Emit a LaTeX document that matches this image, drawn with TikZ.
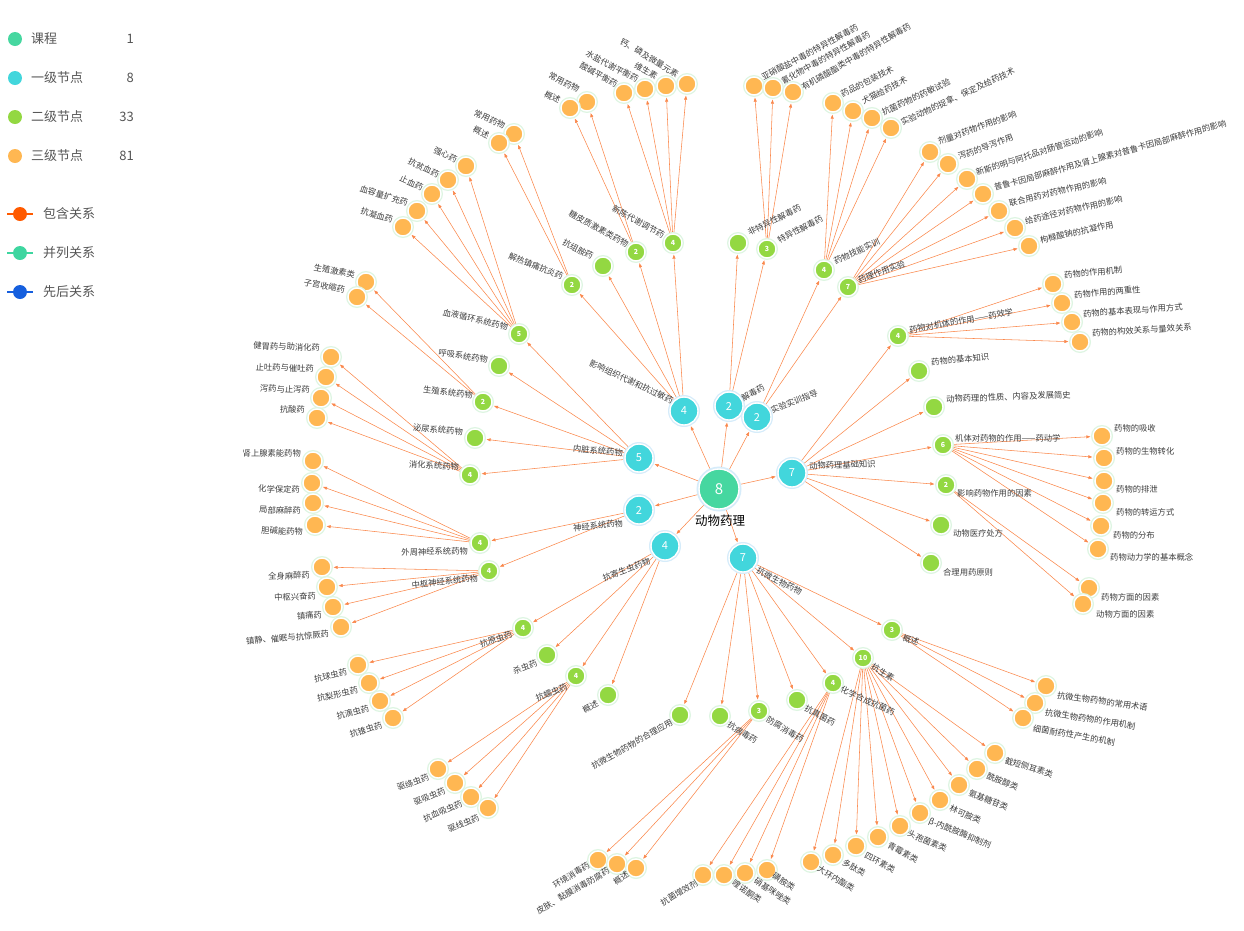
\documentclass[tikz,border=0pt]{standalone}
\usepackage{fontspec}
\setmainfont{Noto Sans CJK SC}
\usetikzlibrary{arrows.meta,backgrounds}
\definecolor{c0}{RGB}{70,215,160}
\definecolor{c1}{RGB}{66,214,220}
\definecolor{c2}{RGB}{147,216,66}
\definecolor{c3}{RGB}{255,183,82}
\definecolor{haloG}{RGB}{222,245,226}
\definecolor{haloB}{RGB}{214,236,250}
\definecolor{edgec}{RGB}{250,135,75}
\definecolor{labc}{RGB}{60,60,60}
\definecolor{legc}{RGB}{85,85,85}
\definecolor{relA}{RGB}{255,90,0}
\definecolor{relB}{RGB}{62,214,160}
\definecolor{relC}{RGB}{22,95,222}
\newcommand\fsz[1]{\fontsize{#1}{#1}\selectfont}
\tikzset{
 base/.style={circle,draw=white,line width=1.4pt,inner sep=0pt,text=white},
 n0/.style={base,fill=c0,minimum size=40pt,preaction={draw=haloB,line width=5pt},font=\fsz{15}},
 n1/.style={base,fill=c1,minimum size=28pt,preaction={draw=haloB,line width=4pt},font=\fsz{11}},
 n2/.style={base,fill=c2,minimum size=18pt,preaction={draw=haloG,line width=4pt},font=\bfseries\fsz{7}},
 n3/.style={base,fill=c3,minimum size=18pt,preaction={draw=haloG,line width=4pt}},
 lab/.style={text=labc,font=\fsz{8.3},inner sep=0pt},
 le/.style={lab,anchor=east},
 lw/.style={lab,anchor=west},
 edge/.style={draw=edgec,line width=0.55pt,-{Triangle[length=4pt,width=3pt]},shorten >=2pt},
 legdot/.style={circle,inner sep=0pt,minimum size=14pt},
 legtxt/.style={text=legc,font=\fsz{13},inner sep=0pt},
}
\begin{document}
\begin{tikzpicture}[x=1pt,y=-1pt]
\useasboundingbox (0,0) rectangle (1244,930);
% legend
\node[legdot,fill=c0] (g0) at (15,39) {};
\node[legdot,fill=c1] (g1) at (15,78) {};
\node[legdot,fill=c2] (g2) at (15,117) {};
\node[legdot,fill=c3] (g3) at (15,156) {};
\node[legtxt,anchor=west] (gt0) at (31,39) {课程};
\node[legtxt,anchor=west] (gt1) at (31,78) {一级节点};
\node[legtxt,anchor=west] (gt2) at (31,117) {二级节点};
\node[legtxt,anchor=west] (gt3) at (31,156) {三级节点};
\node[legtxt,anchor=east] (gn0) at (134,39) {1};
\node[legtxt,anchor=east] (gn1) at (134,78) {8};
\node[legtxt,anchor=east] (gn2) at (134,117) {33};
\node[legtxt,anchor=east] (gn3) at (134,156) {81};
\coordinate (la1) at (7,214); \coordinate (la2) at (33,214);
\coordinate (lb1) at (7,253); \coordinate (lb2) at (33,253);
\coordinate (lc1) at (7,292); \coordinate (lc2) at (33,292);
\draw[relA,line width=2pt] (la1) -- (la2);
\draw[relB,line width=2pt] (lb1) -- (lb2);
\draw[relC,line width=2pt] (lc1) -- (lc2);
\node[legdot,fill=relA] (r1) at (20,214) {};
\node[legdot,fill=relB] (r2) at (20,253) {};
\node[legdot,fill=relC] (r3) at (20,292) {};
\node[legtxt,anchor=west] (rt1) at (43,214) {包含关系};
\node[legtxt,anchor=west] (rt2) at (43,253) {并列关系};
\node[legtxt,anchor=west] (rt3) at (43,292) {先后关系};
% center
\node[n0] (C) at (719,489) {8};
\node[text=black,font=\fsz{12.5},inner sep=0pt] (tC) at (720,521) {动物药理};
% level 1
\node[n1] (A1) at (684,411) {4};
\node[n1] (A2) at (729,406) {2};
\node[n1] (A3) at (757,417) {2};
\node[n1] (A4) at (639,458) {5};
\node[n1] (A5) at (639,510) {2};
\node[n1] (A6) at (665,546) {4};
\node[n1] (A7) at (743,558) {7};
\node[n1] (A8) at (792,473) {7};
\node[le,rotate=-25] (tA1) at (673,401) {影响组织代谢和抗过敏药};
\node[lw,rotate=29] (tA2) at (742,399) {解毒药};
\node[lw,rotate=22] (tA3) at (771,411) {实验实训指导};
\node[le,rotate=-5] (tA4) at (623,453) {内脏系统药物};
\node[le,rotate=6] (tA5) at (623,523) {神经系统药物};
\node[le,rotate=20] (tA6) at (650,561) {抗寄生虫药物};
\node[lw,rotate=-27] (tA7) at (757,570) {抗微生物药物};
\node[lw,rotate=2] (tA8) at (809,466) {动物药理基础知识};
% level 2
\node[n2] (B1) at (572,285) {2};
\node[n2] (B2) at (603,266) {};
\node[n2] (B3) at (636,252) {2};
\node[n2] (B4) at (673,243) {4};
\node[n2] (B5) at (738,243) {};
\node[n2] (B6) at (767,249) {3};
\node[n2] (B7) at (824,270) {4};
\node[n2] (B8) at (848,287) {7};
\node[n2] (B9) at (519,334) {5};
\node[n2] (B10) at (499,366) {};
\node[n2] (B11) at (483,402) {2};
\node[n2] (B12) at (475,438) {};
\node[n2] (B13) at (470,475) {4};
\node[n2] (B14) at (480,543) {4};
\node[n2] (B15) at (489,571) {4};
\node[n2] (B16) at (523,628) {4};
\node[n2] (B17) at (547,655) {};
\node[n2] (B18) at (576,676) {4};
\node[n2] (B19) at (608,695) {};
\node[n2] (B20) at (680,715) {};
\node[n2] (B21) at (720,716) {};
\node[n2] (B22) at (759,711) {3};
\node[n2] (B23) at (797,700) {};
\node[n2] (B24) at (833,683) {4};
\node[n2] (B25) at (863,658) {10};
\node[n2] (B26) at (892,630) {3};
\node[n2] (B27) at (898,336) {4};
\node[n2] (B28) at (919,371) {};
\node[n2] (B29) at (934,407) {};
\node[n2] (B30) at (943,445) {6};
\node[n2] (B31) at (946,485) {2};
\node[n2] (B32) at (941,525) {};
\node[n2] (B33) at (931,563) {};
\node[le,rotate=-22] (tB1) at (563,277) {解热镇痛抗炎药};
\node[le,rotate=-27] (tB2) at (593,257) {抗组胺药};
\node[le,rotate=-29] (tB3) at (628,245) {糖皮质激素类药物};
\node[le,rotate=-29] (tB4) at (664,236) {新陈代谢调节药};
\node[lw,rotate=26] (tB5) at (748,233) {非特异性解毒药};
\node[lw,rotate=28] (tB6) at (778,241) {特异性解毒药};
\node[lw,rotate=25] (tB7) at (834,262) {药物技能实训};
\node[lw,rotate=21] (tB8) at (858,281) {药理作用实验};
\node[le,rotate=-13] (tB9) at (508,327) {血液循环系统药物};
\node[le,rotate=-9] (tB10) at (488,360) {呼吸系统药物};
\node[le,rotate=-7] (tB11) at (473,395) {生殖系统药物};
\node[le,rotate=-5] (tB12) at (463,432) {泌尿系统药物};
\node[le,rotate=-3] (tB13) at (459,467) {消化系统药物};
\node[le,rotate=1] (tB14) at (468,551) {外周神经系统药物};
\node[le,rotate=6] (tB15) at (478,578) {中枢神经系统药物};
\node[le,rotate=18] (tB16) at (512,634) {抗原虫药};
\node[le,rotate=20] (tB17) at (537,663) {杀虫药};
\node[le,rotate=23] (tB18) at (567,686) {抗蠕虫药};
\node[le,rotate=28] (tB19) at (598,703) {概述};
\node[le,rotate=29] (tB20) at (672,722) {抗微生物药物的合理应用};
\node[lw,rotate=-31] (tB21) at (728,724) {抗病毒药};
\node[lw,rotate=-30] (tB22) at (767,719) {防腐消毒药};
\node[lw,rotate=-27] (tB23) at (805,708) {抗真菌药};
\node[lw,rotate=-24] (tB24) at (841,689) {化学合成抗菌药};
\node[lw,rotate=-30] (tB25) at (872,666) {抗生素};
\node[lw,rotate=-20] (tB26) at (903,637) {概述};
\node[lw,rotate=10] (tB27) at (909,330) {药物对机体的作用——药效学};
\node[lw,rotate=5] (tB28) at (931,362) {药物的基本知识};
\node[lw,rotate=2] (tB29) at (946,399) {动物药理的性质、内容及发展简史};
\node[lw] (tB30) at (955,438) {机体对药物的作用——药动学};
\node[lw] (tB31) at (957,493) {影响药物作用的因素};
\node[lw,rotate=-1] (tB32) at (953,533) {动物医疗处方};
\node[lw,rotate=-1] (tB33) at (943,572) {合理用药原则};
% level 3
\node[n3] (c1) at (514,134) {};
\node[n3] (c2) at (499,143) {};
\node[n3] (c3) at (587,102) {};
\node[n3] (c4) at (570,108) {};
\node[n3] (c5) at (624,93) {};
\node[n3] (c6) at (645,89) {};
\node[n3] (c7) at (666,86) {};
\node[n3] (c8) at (687,84) {};
\node[n3] (c9) at (754,86) {};
\node[n3] (c10) at (773,88) {};
\node[n3] (c11) at (793,92) {};
\node[n3] (c12) at (833,103) {};
\node[n3] (c13) at (853,111) {};
\node[n3] (c14) at (872,118) {};
\node[n3] (c15) at (891,128) {};
\node[n3] (c16) at (930,152) {};
\node[n3] (c17) at (948,164) {};
\node[n3] (c18) at (967,179) {};
\node[n3] (c19) at (983,194) {};
\node[n3] (c20) at (999,211) {};
\node[n3] (c21) at (1015,228) {};
\node[n3] (c22) at (1029,246) {};
\node[n3] (c23) at (466,166) {};
\node[n3] (c24) at (448,180) {};
\node[n3] (c25) at (432,194) {};
\node[n3] (c26) at (417,211) {};
\node[n3] (c27) at (403,227) {};
\node[n3] (c28) at (366,282) {};
\node[n3] (c29) at (357,297) {};
\node[n3] (c30) at (331,357) {};
\node[n3] (c31) at (326,377) {};
\node[n3] (c32) at (321,398) {};
\node[n3] (c33) at (317,418) {};
\node[n3] (c34) at (313,461) {};
\node[n3] (c35) at (312,483) {};
\node[n3] (c36) at (313,503) {};
\node[n3] (c37) at (315,525) {};
\node[n3] (c38) at (322,567) {};
\node[n3] (c39) at (327,587) {};
\node[n3] (c40) at (333,607) {};
\node[n3] (c41) at (341,627) {};
\node[n3] (c42) at (358,665) {};
\node[n3] (c43) at (369,683) {};
\node[n3] (c44) at (380,701) {};
\node[n3] (c45) at (393,718) {};
\node[n3] (c46) at (438,769) {};
\node[n3] (c47) at (455,783) {};
\node[n3] (c48) at (471,797) {};
\node[n3] (c49) at (488,808) {};
\node[n3] (c50) at (598,860) {};
\node[n3] (c51) at (617,864) {};
\node[n3] (c52) at (636,868) {};
\node[n3] (c53) at (703,875) {};
\node[n3] (c54) at (724,875) {};
\node[n3] (c55) at (745,873) {};
\node[n3] (c56) at (767,870) {};
\node[n3] (c57) at (811,862) {};
\node[n3] (c58) at (833,855) {};
\node[n3] (c59) at (856,846) {};
\node[n3] (c60) at (878,837) {};
\node[n3] (c61) at (900,826) {};
\node[n3] (c62) at (920,813) {};
\node[n3] (c63) at (940,800) {};
\node[n3] (c64) at (959,785) {};
\node[n3] (c65) at (977,769) {};
\node[n3] (c66) at (995,753) {};
\node[n3] (c67) at (1046,686) {};
\node[n3] (c68) at (1035,703) {};
\node[n3] (c69) at (1023,718) {};
\node[n3] (c70) at (1053,284) {};
\node[n3] (c71) at (1062,303) {};
\node[n3] (c72) at (1072,322) {};
\node[n3] (c73) at (1080,342) {};
\node[n3] (c74) at (1102,436) {};
\node[n3] (c75) at (1104,458) {};
\node[n3] (c76) at (1104,481) {};
\node[n3] (c77) at (1103,503) {};
\node[n3] (c78) at (1101,526) {};
\node[n3] (c79) at (1098,549) {};
\node[n3] (c80) at (1089,588) {};
\node[n3] (c81) at (1083,604) {};
% level 3 labels
\node[le,rotate=-24] (t1) at (505,126) {常用药物};
\node[le,rotate=-25] (t2) at (489,136) {概述};
\node[le,rotate=-27] (t3) at (579,90) {常用药物};
\node[le,rotate=-27] (t4) at (560,101) {概述};
\node[le,rotate=-29] (t5) at (617,85) {酸碱平衡药};
\node[le,rotate=-28] (t6) at (638,80) {水盐代谢平衡药};
\node[le,rotate=-30] (t7) at (657,77) {维生素};
\node[le,rotate=-31] (t8) at (678,75) {钙、磷及微量元素};
\node[lw,rotate=28] (t9) at (762,78) {亚硝酸盐中毒的特异性解毒药};
\node[lw,rotate=29] (t10) at (782,82) {氰化物中毒的特异性解毒药};
\node[lw,rotate=30] (t11) at (802,88) {有机磷酸酯类中毒的特异性解毒药};
\node[lw,rotate=27] (t12) at (841,95) {药品的包装技术};
\node[lw,rotate=27] (t13) at (862,102) {犬猫给药技术};
\node[lw,rotate=25] (t14) at (882,113) {抗菌药物的药敏试验};
\node[lw,rotate=25] (t15) at (901,123) {实验动物的捉拿、保定及给药技术};
\node[lw,rotate=20] (t16) at (938,142) {剂量对药物作用的影响};
\node[lw,rotate=20] (t17) at (958,157) {泻药的导泻作用};
\node[lw,rotate=18] (t18) at (976,173) {新斯的明与阿托品对肠管运动的影响};
\node[lw,rotate=15.6] (t19) at (994,188) {普鲁卡因局部麻醉作用及肾上腺素对普鲁卡因局部麻醉作用的影响};
\node[lw,rotate=13] (t20) at (1009,203) {联合用药对药物作用的影响};
\node[lw,rotate=13] (t21) at (1025,221) {给药途径对药物作用的影响};
\node[lw,rotate=12] (t22) at (1040,240) {枸橼酸钠的抗凝作用};
\node[le,rotate=-25] (t23) at (457,160) {强心药};
\node[le,rotate=-25] (t24) at (439,175) {抗贫血药};
\node[le,rotate=-24] (t25) at (423,188) {止血药};
\node[le,rotate=-17] (t26) at (408,203) {血容量扩充药};
\node[le,rotate=-16] (t27) at (393,220) {抗凝血药};
\node[le,rotate=-11] (t28) at (355,275) {生殖激素类};
\node[le,rotate=-11] (t29) at (345,290) {子宫收缩药};
\node[le,rotate=-2] (t30) at (320,348) {健胃药与助消化药};
\node[le,rotate=-2] (t31) at (314,369) {止吐药与催吐药};
\node[le,rotate=-2] (t32) at (310,390) {泻药与止泻药};
\node[le,rotate=-2] (t33) at (305,410) {抗酸药};
\node[le] (t34) at (301,453) {肾上腺素能药物};
\node[le,rotate=-2] (t35) at (300,490) {化学保定药};
\node[le,rotate=-2] (t36) at (301,511) {局部麻醉药};
\node[le,rotate=-2] (t37) at (303,532) {胆碱能药物};
\node[le,rotate=2] (t38) at (310,575) {全身麻醉药};
\node[le,rotate=2] (t39) at (316,596) {中枢兴奋药};
\node[le,rotate=2] (t40) at (322,615) {镇痛药};
\node[le,rotate=5] (t41) at (329,634) {镇静、催眠与抗惊厥药};
\node[le,rotate=12] (t42) at (347,672) {抗球虫药};
\node[le,rotate=12] (t43) at (358,690) {抗梨形虫药};
\node[le,rotate=15] (t44) at (369,708) {抗滴虫药};
\node[le,rotate=17] (t45) at (382,725) {抗锥虫药};
\node[le,rotate=19] (t46) at (429,777) {驱绦虫药};
\node[le,rotate=22] (t47) at (445,790) {驱吸虫药};
\node[le,rotate=23] (t48) at (462,803) {抗血吸虫药};
\node[le,rotate=23] (t49) at (479,817) {驱线虫药};
\node[le,rotate=32] (t50) at (589,864) {环境消毒药};
\node[le,rotate=30] (t51) at (609,870) {皮肤、黏膜消毒防腐药};
\node[le,rotate=35] (t52) at (628,873) {概述};
\node[le,rotate=31] (t53) at (697,882) {抗菌增效剂};
\node[lw,rotate=-34] (t54) at (733,882) {喹诺酮类};
\node[lw,rotate=-33] (t55) at (755,880) {硝基咪唑类};
\node[lw,rotate=-32] (t56) at (773,875) {磺胺类};
\node[lw,rotate=-31] (t57) at (818,868) {大环内酯类};
\node[lw,rotate=-29] (t58) at (843,862) {多肽类};
\node[lw,rotate=-27] (t59) at (865,855) {四环素类};
\node[lw,rotate=-27] (t60) at (888,845) {青霉素类};
\node[lw,rotate=-23] (t61) at (908,833) {头孢菌素类};
\node[lw,rotate=-22] (t62) at (929,821) {β-内酰胺酶抑制剂};
\node[lw,rotate=-23] (t63) at (950,808) {林可胺类};
\node[lw,rotate=-22] (t64) at (969,792) {氨基糖苷类};
\node[lw,rotate=-22] (t65) at (987,775) {酰胺醇类};
\node[lw,rotate=-17] (t66) at (1005,760) {截短侧耳素类};
\node[lw,rotate=-8] (t67) at (1057,695) {抗微生物药物的常用术语};
\node[lw,rotate=-9] (t68) at (1045,712) {抗微生物药物的作用机制};
\node[lw,rotate=-10] (t69) at (1033,728) {细菌耐药性产生的机制};
\node[lw,rotate=5] (t70) at (1064,275) {药物的作用机制};
\node[lw,rotate=5] (t71) at (1074,295) {药物作用的两重性};
\node[lw,rotate=4] (t72) at (1083,314) {药物的基本表现与作用方式};
\node[lw,rotate=3.5] (t73) at (1092,333) {药物的构效关系与量效关系};
\node[lw] (t74) at (1114,428) {药物的吸收};
\node[lw] (t75) at (1116,451) {药物的生物转化};
\node[lw] (t76) at (1116,489) {药物的排泄};
\node[lw] (t77) at (1116,512) {药物的转运方式};
\node[lw] (t78) at (1113,535) {药物的分布};
\node[lw] (t79) at (1110,557) {药物动力学的基本概念};
\node[lw] (t80) at (1101,597) {药物方面的因素};
\node[lw] (t81) at (1096,614) {动物方面的因素};
% edges
\begin{scope}[on background layer]
\foreach \a/\b in {C/A1,C/A2,C/A3,C/A4,C/A5,C/A6,C/A7,C/A8,
 A1/B1,A1/B2,A1/B3,A1/B4,A2/B5,A2/B6,A3/B7,A3/B8,
 A4/B9,A4/B10,A4/B11,A4/B12,A4/B13,A5/B14,A5/B15,
 A6/B16,A6/B17,A6/B18,A6/B19,
 A7/B20,A7/B21,A7/B22,A7/B23,A7/B24,A7/B25,A7/B26,
 A8/B27,A8/B28,A8/B29,A8/B30,A8/B31,A8/B32,A8/B33,
 B1/c1,B1/c2,B3/c3,B3/c4,B4/c5,B4/c6,B4/c7,B4/c8,
 B6/c9,B6/c10,B6/c11,B7/c12,B7/c13,B7/c14,B7/c15,
 B8/c16,B8/c17,B8/c18,B8/c19,B8/c20,B8/c21,B8/c22,
 B9/c23,B9/c24,B9/c25,B9/c26,B9/c27,B11/c28,B11/c29,
 B13/c30,B13/c31,B13/c32,B13/c33,B14/c34,B14/c35,B14/c36,B14/c37,
 B15/c38,B15/c39,B15/c40,B15/c41,B16/c42,B16/c43,B16/c44,B16/c45,
 B18/c46,B18/c47,B18/c48,B18/c49,B22/c50,B22/c51,B22/c52,
 B24/c53,B24/c54,B24/c55,B24/c56,
 B25/c57,B25/c58,B25/c59,B25/c60,B25/c61,B25/c62,B25/c63,B25/c64,B25/c65,B25/c66,
 B26/c67,B26/c68,B26/c69,B27/c70,B27/c71,B27/c72,B27/c73,
 B30/c74,B30/c75,B30/c76,B30/c77,B30/c78,B30/c79,B31/c80,B31/c81}
 \draw[edge] (\a) -- (\b);
\end{scope}
\end{tikzpicture}
\end{document}
